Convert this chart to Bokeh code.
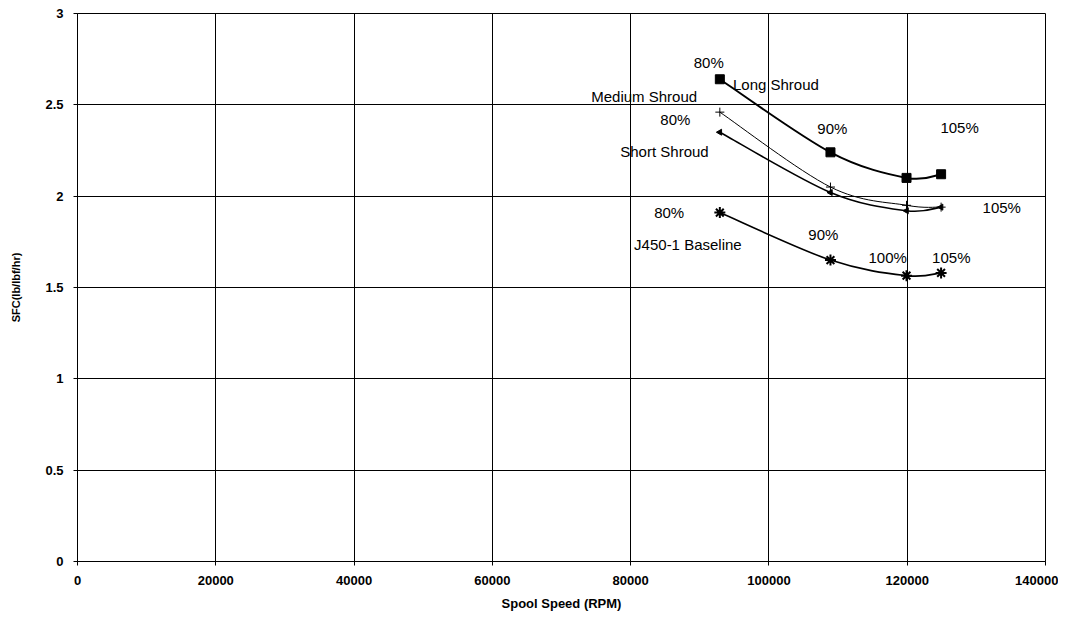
from bokeh.plotting import figure
from bokeh.models import FixedTicker, Range1d, Label, ColumnDataSource
from bokeh.embed import file_html
from bokeh.resources import INLINE

# ---- data ----
rpm = [92900, 108900, 119900, 124900]
long_shroud = [2.64, 2.24, 2.10, 2.12]
medium_shroud = [2.46, 2.05, 1.95, 1.94]
short_shroud = [2.35, 2.02, 1.92, 1.94]
baseline = [1.91, 1.65, 1.565, 1.58]

x_ticks = [0, 20000, 40000, 60000, 80000, 100000, 120000, 140000]
y_ticks = [0, 0.5, 1, 1.5, 2, 2.5, 3]
y_tick_labels = ["0", "0.5", "1", "1.5", "2", "2.5", "3"]

# annotation texts with their anchor (data units)
labels = [
    ("80%", 91300, 2.73, "center"),
    ("Long Shroud", 94800, 2.61, "left"),
    ("Medium Shroud", 74300, 2.545, "left"),
    ("80%", 84300, 2.42, "left"),
    ("Short Shroud", 78500, 2.245, "left"),
    ("80%", 83400, 1.91, "left"),
    ("90%", 107000, 2.37, "left"),
    ("90%", 105700, 1.79, "left"),
    ("J450-1 Baseline", 80500, 1.735, "left"),
    ("100%", 114400, 1.665, "left"),
    ("105%", 123600, 1.665, "left"),
    ("105%", 124800, 2.375, "left"),
    ("105%", 130900, 1.94, "left"),
]

FONT = "Liberation Sans"

p = figure(width=1058, height=613, output_backend="svg", toolbar_location=None,
           x_range=Range1d(0, 140000), y_range=Range1d(0, 3),
           min_border_left=77, min_border_right=13, min_border_top=13, min_border_bottom=49)

p.background_fill_color = "white"
p.border_fill_color = "white"
p.outline_line_color = "black"
p.outline_line_width = 1

for ax in (p.xaxis, p.yaxis):
    ax.axis_line_color = "black"
    ax.major_tick_line_color = "black"
    ax.major_tick_out = 4
    ax.major_tick_in = 0
    ax.minor_tick_line_color = None
    ax.major_label_text_font = FONT
    ax.major_label_text_font_style = "bold"
    ax.major_label_text_font_size = "13px"
    ax.major_label_text_color = "black"
    ax.axis_label_text_font = FONT
    ax.axis_label_text_font_style = "bold"
    ax.axis_label_text_color = "black"

p.xaxis.ticker = FixedTicker(ticks=x_ticks)
p.yaxis.ticker = FixedTicker(ticks=y_ticks)
p.xaxis.major_label_overrides = {t: str(t) for t in x_ticks}
p.yaxis.major_label_overrides = {t: s for t, s in zip(y_ticks, y_tick_labels)}
p.xaxis.axis_label = "Spool Speed (RPM)"
p.yaxis.axis_label = "SFC(lb/lbf/hr)"
p.xaxis.axis_label_text_font_size = "13px"
p.yaxis.axis_label_text_font_size = "11px"
p.xaxis.major_label_standoff = 10
p.yaxis.major_label_standoff = 10
p.xaxis.axis_label_standoff = 8
p.yaxis.axis_label_standoff = 20

for g in (p.xgrid, p.ygrid):
    g.grid_line_color = "black"
    g.grid_line_width = 1
    g.grid_line_alpha = 1.0


def smooth_curve(xs, ys, width):
    # Excel-like smoothed line: cubic Bezier segments through the data points
    n = len(xs)
    x0, y0, x1, y1, cx0, cy0, cx1, cy1 = [], [], [], [], [], [], [], []
    for i in range(n - 1):
        ip = max(i - 1, 0)
        inx = min(i + 2, n - 1)
        x0.append(xs[i]); y0.append(ys[i])
        x1.append(xs[i + 1]); y1.append(ys[i + 1])
        cx0.append(xs[i] + (xs[i + 1] - xs[ip]) / 6.0)
        cy0.append(ys[i] + (ys[i + 1] - ys[ip]) / 6.0)
        cx1.append(xs[i + 1] - (xs[inx] - xs[i]) / 6.0)
        cy1.append(ys[i + 1] - (ys[inx] - ys[i]) / 6.0)
    src = ColumnDataSource(dict(x0=x0, y0=y0, x1=x1, y1=y1, cx0=cx0, cy0=cy0, cx1=cx1, cy1=cy1))
    p.bezier(x0="x0", y0="y0", x1="x1", y1="y1", cx0="cx0", cy0="cy0", cx1="cx1", cy1="cy1",
             source=src, line_color="black", line_width=width)


smooth_curve(rpm, long_shroud, 2)
smooth_curve(rpm, medium_shroud, 1)
smooth_curve(rpm, short_shroud, 1.6)
smooth_curve(rpm, baseline, 1.6)

p.scatter(rpm, long_shroud, marker="square", size=9, color="black")
p.scatter(rpm, medium_shroud, marker="cross", size=9, line_color="black", line_width=1)
p.scatter(rpm, short_shroud, marker="triangle", size=6, color="black", angle=1.5708)
p.scatter(rpm, baseline, marker="asterisk", size=11, line_color="black", line_width=2)

for txt, lx, ly, align in labels:
    p.add_layout(Label(x=lx, y=ly, text=txt, text_font=FONT, text_font_size="15px",
                       text_color="black", text_align=align, text_baseline="middle"))

open("out.html", "w").write(file_html(p, INLINE))
